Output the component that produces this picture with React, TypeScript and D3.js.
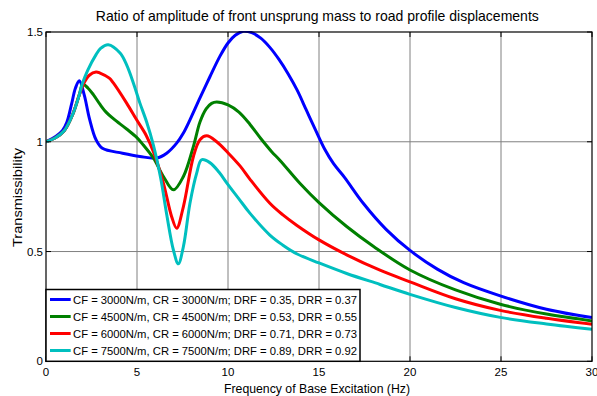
import React from "react";
import * as d3 from "d3";

const blueX = [0, 0.55, 0.9, 1.15, 1.4, 1.62, 1.83, 2.1, 2.38, 2.75, 3.1, 4.2, 5.16, 6.08, 6.63, 7.18, 7.55, 7.91, 8.46, 9.0, 9.56, 10.0, 10.4, 10.84, 11.3, 11.8, 12.3, 12.8, 13.3, 13.8, 14.3, 14.8, 15.3, 15.8, 16.4, 17.43, 18.7, 20.0, 21.5, 22.95, 24.96, 27.5, 30];
const blueY = [1.0, 1.025, 1.05, 1.09, 1.17, 1.245, 1.278, 1.214, 1.108, 1.009, 0.97, 0.948, 0.933, 0.926, 0.948, 0.994, 1.04, 1.1, 1.2, 1.295, 1.39, 1.45, 1.485, 1.503, 1.497, 1.472, 1.43, 1.375, 1.31, 1.235, 1.145, 1.055, 0.968, 0.9, 0.838, 0.72, 0.6, 0.505, 0.42, 0.358, 0.298, 0.237, 0.199];

const greenX = [0, 0.5, 1.0, 1.46, 1.83, 2.02, 2.3, 2.6, 2.97, 3.3, 3.7, 4.43, 4.98, 5.35, 5.9, 6.45, 7.0, 7.55, 8.1, 8.46, 8.8, 9.1, 9.38, 10.0, 10.6, 11.2, 11.8, 12.4, 12.86, 13.96, 15.0, 16.52, 18.0, 20.0, 22.5, 24.96, 27.5, 30];
const greenY = [1.0, 1.017, 1.05, 1.123, 1.214, 1.262, 1.245, 1.215, 1.17, 1.135, 1.105, 1.058, 1.02, 0.985, 0.926, 0.842, 0.781, 0.842, 0.979, 1.09, 1.15, 1.175, 1.181, 1.168, 1.135, 1.08, 1.015, 0.955, 0.915, 0.81, 0.723, 0.614, 0.523, 0.416, 0.325, 0.26, 0.215, 0.184];

const redX = [0, 0.5, 1.0, 1.46, 1.83, 2.1, 2.38, 2.75, 2.97, 3.48, 3.7, 4.43, 4.98, 5.5, 5.9, 6.45, 6.9, 7.18, 7.55, 8.1, 8.46, 8.83, 9.38, 10.02, 10.66, 11.2, 12.3, 13.0, 13.77, 15.0, 16.52, 18.35, 20.0, 22.5, 24.96, 27.5, 30];
const redY = [1.0, 1.017, 1.05, 1.123, 1.214, 1.27, 1.303, 1.318, 1.313, 1.29, 1.268, 1.176, 1.1, 1.03, 0.955, 0.812, 0.66, 0.606, 0.705, 0.933, 1.009, 1.027, 1.0, 0.948, 0.89, 0.83, 0.72, 0.668, 0.62, 0.553, 0.485, 0.415, 0.362, 0.285, 0.232, 0.196, 0.169];

const cyanX = [0, 0.5, 1.0, 1.46, 1.83, 2.0, 2.29, 2.75, 3.0, 3.42, 4.07, 4.43, 4.8, 5.16, 5.53, 5.9, 6.3, 6.63, 7.0, 7.27, 7.55, 7.91, 8.28, 8.55, 9.0, 9.5, 10.0, 10.6, 11.2, 12.3, 13.0, 13.77, 15.0, 16.52, 18.35, 20.0, 22.5, 24.96, 27.5, 30];
const cyanY = [1.0, 1.017, 1.05, 1.123, 1.214, 1.265, 1.325, 1.397, 1.425, 1.442, 1.404, 1.35, 1.268, 1.176, 1.09, 0.985, 0.835, 0.67, 0.507, 0.444, 0.523, 0.72, 0.857, 0.918, 0.905, 0.862, 0.805, 0.74, 0.675, 0.575, 0.53, 0.49, 0.448, 0.4, 0.35, 0.305, 0.245, 0.2, 0.17, 0.146];

const seriesLabels = [
  "CF = 3000N/m, CR = 3000N/m; DRF = 0.35, DRR = 0.37",
  "CF = 4500N/m, CR = 4500N/m; DRF = 0.53, DRR = 0.55",
  "CF = 6000N/m, CR = 6000N/m; DRF = 0.71, DRR = 0.73",
  "CF = 7500N/m, CR = 7500N/m; DRF = 0.89, DRR = 0.92",
];
const seriesColors = ["#0000FF", "#008000", "#FF0000", "#00BFBF"];

const xTicks = [0, 5, 10, 15, 20, 25, 30];
const yTicks = [0, 0.5, 1, 1.5];
const yTickLabels = ["0", "0.5", "1", "1.5"];

const titleText = "Ratio of amplitude of front unsprung mass to road profile displacements";
const xLabelText = "Frequency of Base Excitation (Hz)";
const yLabelText = "Transmissibility";

const W = 597;
const H = 396;
const L = 46, R = 592, T = 32, B = 361.3;
const FONT = "'Liberation Sans', Arial, Helvetica, sans-serif";

export default function App() {
  const x = d3.scaleLinear().domain([0, 30]).range([L, R]);
  const y = d3.scaleLinear().domain([0, 1.5]).range([B, T]);
  const line = d3
    .line<[number, number]>()
    .x((d) => x(d[0]))
    .y((d) => y(d[1]))
    .curve(d3.curveCatmullRom.alpha(0.5));

  const series = [
    [blueX, blueY],
    [greenX, greenY],
    [redX, redY],
    [cyanX, cyanY],
  ].map(([xs, ys]) => xs.map((v, i) => [v, ys[i]] as [number, number]));

  const legTop = 289.5;
  const legRight = 360;
  const legRowY = (i: number) => 299.5 + i * 17;

  return (
    <svg
      width={W}
      height={H}
      style={{ position: "absolute", left: 0, top: 0, background: "#fff" }}
      fontFamily={FONT}
    >
      <defs>
        <clipPath id="plotclip">
          <rect x={L} y={T - 1} width={R - L} height={B - T + 1} />
        </clipPath>
      </defs>
      <rect x={0} y={0} width={W} height={H} fill="#fff" />
      {xTicks.slice(1, -1).map((t) => (
        <line key={"gx" + t} x1={x(t)} x2={x(t)} y1={T} y2={B} stroke="#808080" strokeWidth={1} />
      ))}
      {yTicks.slice(1, -1).map((t) => (
        <line key={"gy" + t} x1={L} x2={R} y1={y(t)} y2={y(t)} stroke="#808080" strokeWidth={1} />
      ))}
      <g clipPath="url(#plotclip)">
        {series.map((pts, i) => (
          <path key={i} d={line(pts) || ""} fill="none" stroke={seriesColors[i]} strokeWidth={3} strokeLinejoin="round" />
        ))}
      </g>
      <rect x={L} y={T} width={R - L} height={B - T} fill="none" stroke="#000" strokeWidth={1.2} />
      {xTicks.map((t) => (
        <g key={"tx" + t}>
          <line x1={x(t)} x2={x(t)} y1={B} y2={B - 5} stroke="#000" />
          <line x1={x(t)} x2={x(t)} y1={T} y2={T + 5} stroke="#000" />
          <text x={x(t)} y={376} fontSize={11.5} textAnchor="middle" fill="#000">
            {t}
          </text>
        </g>
      ))}
      {yTicks.map((t, i) => (
        <g key={"ty" + t}>
          <line x1={L} x2={L + 5} y1={y(t)} y2={y(t)} stroke="#000" />
          <line x1={R} x2={R - 5} y1={y(t)} y2={y(t)} stroke="#000" />
          <text x={43} y={y(t) + 4} fontSize={11.5} textAnchor="end" fill="#000">
            {yTickLabels[i]}
          </text>
        </g>
      ))}
      <rect x={L} y={legTop} width={legRight - L} height={B - legTop} fill="#fff" stroke="#000" strokeWidth={1.5} />
      {seriesLabels.map((s, i) => (
        <g key={"lg" + i}>
          <line x1={50} x2={70.7} y1={legRowY(i)} y2={legRowY(i)} stroke={seriesColors[i]} strokeWidth={3} />
          <text x={73} y={legRowY(i) + 4} fontSize={11.5} textLength={284} lengthAdjust="spacingAndGlyphs" fill="#000">
            {s}
          </text>
        </g>
      ))}
      <text x={317.3} y={20.5} fontSize={14.5} textAnchor="middle" textLength={443} lengthAdjust="spacingAndGlyphs" fill="#000">
        {titleText}
      </text>
      <text x={317} y={392.5} fontSize={13} textAnchor="middle" textLength={186} lengthAdjust="spacingAndGlyphs" fill="#000">
        {xLabelText}
      </text>
      <text
        transform={`translate(22,197.5) rotate(-90)`}
        fontSize={13.5}
        textAnchor="middle"
        textLength={99}
        lengthAdjust="spacingAndGlyphs"
        fill="#000"
      >
        {yLabelText}
      </text>
    </svg>
  );
}
